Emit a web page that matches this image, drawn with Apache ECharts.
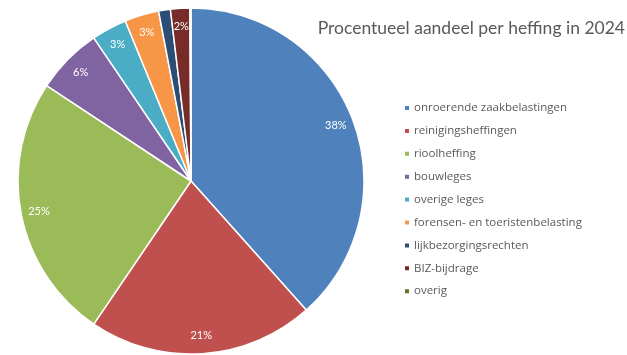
<!DOCTYPE html>
<html><head><meta charset="utf-8">
<script src="https://cdn.jsdelivr.net/npm/echarts@6/dist/echarts.min.js"></script>
<style>html,body{margin:0;padding:0;background:#fff}#c{width:627px;height:355px}</style>
</head><body><div id="c"></div>
<script>
const categories = ["onroerende zaakbelastingen","reinigingsheffingen","rioolheffing","bouwleges","overige leges","forensen- en toeristenbelasting","lijkbezorgingsrechten","BIZ-bijdrage","overig"];
const values = [38.4, 21.1, 24.8, 6.2, 3.3, 3.2, 1.1, 1.8, 0.1];
const labelsShown = ["38%","21%","25%","6%","3%","3%","","2%",""];
const colors = ["#4F81BD","#C0504D","#9BBB59","#8064A2","#4BACC6","#F79646","#2C4D75","#772C2A","#5F7530"];
const title = "Procentueel aandeel per heffing in 2024";

const font = "Lato, 'Open Sans', sans-serif";
const lfont = "'Open Sans', sans-serif";
const data = categories.map((c,i)=>({name:c, value:values[i], itemStyle:{color:colors[i]}}));
const labelData = categories.map((c,i)=>({name:c, value:values[i], label:{formatter:labelsShown[i]}}));

const chart = echarts.init(document.getElementById('c'));
chart.setOption({
  animation:false,
  title:{text:title, right:-3, top:14, textStyle:{fontFamily:font, fontWeight:'normal', fontSize:17.5, color:'#595959'}},
  legend:{orient:'vertical', left:398, top:96, icon:'rect', itemWidth:6, itemHeight:6, itemGap:8.9,
    data:categories,
    textStyle:{fontFamily:lfont, fontSize:11.5, color:'#595959', lineHeight:14, padding:[0,0,0,-1]}},
  series:[
    {type:'pie', center:[191,181], radius:[0,173], startAngle:90, clockwise:true,
     data:data, label:{show:false}, labelLine:{show:false},
     itemStyle:{borderColor:'#fff', borderWidth:1.5}, silent:true},
    {type:'pie', center:[191,181], radius:[122,182], startAngle:90, clockwise:true,
     data:labelData, itemStyle:{color:'rgba(0,0,0,0)'}, silent:true, legendHoverLink:false,
     label:{show:true, position:'inside', color:'#fff', fontFamily:font, fontSize:11}, labelLine:{show:false}}
  ]
});
</script></body></html>
